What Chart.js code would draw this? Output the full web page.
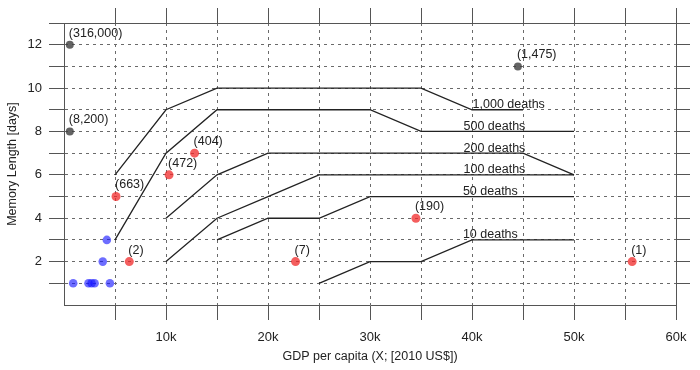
<!DOCTYPE html>
<html>
<head>
<meta charset="utf-8">
<script src="https://cdn.jsdelivr.net/npm/chart.js@4/dist/chart.umd.min.js"></script>
<style>
  html, body { margin: 0; padding: 0; background: #fff; }
  #wrap { width: 700px; height: 370px; }
</style>
</head>
<body>
<div id="wrap"><canvas id="c" width="700" height="370"></canvas></div>
<script>
// ---- data ----
const grayX = [570, 570, 44500];
const grayY = [12, 8, 11];
const grayLabels = ['(316,000)', '(8,200)', '(1,475)'];

const redX = [5100, 10300, 12800, 6400, 22700, 34500, 55700];
const redY = [5, 6, 7, 2, 2, 4, 2];
const redLabels = ['(663)', '(472)', '(404)', '(2)', '(7)', '(190)', '(1)'];

const blueX = [900, 2400, 2700, 3000, 4500, 3800, 4200];
const blueY = [1, 1, 1, 1, 1, 2, 3];

const d1000X = [5000, 10000, 15000, 35000, 40000, 45000];
const d1000Y = [6, 9, 10, 10, 9, 9];
const d500X = [5000, 10000, 15000, 30000, 35000, 50000];
const d500Y = [3, 7, 9, 9, 8, 8];
const d200X = [10000, 15000, 20000, 45000, 50000];
const d200Y = [4, 6, 7, 7, 6];
const d100X = [10000, 15000, 20000, 25000, 50000];
const d100Y = [2, 4, 5, 6, 6];
const d50X = [15000, 20000, 25000, 30000, 50000];
const d50Y = [3, 4, 4, 5, 5];
const d10X = [25000, 30000, 35000, 40000, 50000];
const d10Y = [1, 2, 2, 3, 3];

const lineNames = ['1,000 deaths', '500 deaths', '200 deaths', '100 deaths', '50 deaths', '10 deaths'];
const lineLabelX = [43600, 42200, 42200, 42200, 41800, 41800];
const lineLabelY = [9, 8, 7, 6, 5, 3];

const xTickValues = [5000, 10000, 15000, 20000, 25000, 30000, 35000, 40000, 45000, 50000, 55000, 60000];
const xTickLabels = ['', '10k', '', '20k', '', '30k', '', '40k', '', '50k', '', '60k'];
const yTickValues = [1, 2, 3, 4, 5, 6, 7, 8, 9, 10, 11, 12, 13];
const yTickLabels = ['', '2', '', '4', '', '6', '', '8', '', '10', '', '12', ''];

const xTitle = 'GDP per capita (X; [2010 US$])';
const yTitle = 'Memory Length [days]';

// ---- helpers ----
const FONT = "'Liberation Sans', Arial, Helvetica, sans-serif";
const pts = (xs, ys) => xs.map((x, i) => ({ x: x, y: ys[i] }));
const AXIS = '#555';
const GRID = '#6a6a6a';
const X_MIN = 0, X_MAX = 60000, Y_MIN = 0, Y_MAX = 13;

function lineDs(xs, ys) {
  return { data: pts(xs, ys), showLine: true, borderColor: '#222', borderWidth: 1.3,
           pointRadius: 0, fill: false, tension: 0, order: 2 };
}

const labelPlugin = {
  id: 'labels',
  afterDatasetsDraw(chart) {
    const ctx = chart.ctx;
    const xs = chart.scales.x, ys = chart.scales.y;
    ctx.save();
    ctx.fillStyle = '#222';
    ctx.font = '12.5px ' + FONT;
    // point labels
    ctx.textAlign = 'left';
    ctx.textBaseline = 'middle';
    const drawPL = (X, Y, L) => {
      X.forEach((v, i) => {
        ctx.fillText(L[i], xs.getPixelForValue(v) - 1, ys.getPixelForValue(Y[i]) - 11.5);
      });
    };
    drawPL(grayX, grayY, grayLabels);
    drawPL(redX, redY, redLabels);
    // line labels
    ctx.textAlign = 'center';
    ctx.textBaseline = 'alphabetic';
    lineNames.forEach((n, i) => {
      ctx.fillText(n, xs.getPixelForValue(lineLabelX[i]), ys.getPixelForValue(lineLabelY[i]) - 1.5);
    });
    ctx.restore();
  }
};

const edgeX = v => v === X_MIN || v === X_MAX;
const edgeY = v => v === Y_MIN || v === Y_MAX;

new Chart(document.getElementById('c'), {
  type: 'scatter',
  data: {
    datasets: [
      { data: pts(grayX, grayY), backgroundColor: 'rgba(60,60,60,0.8)', borderWidth: 0, pointRadius: 4, order: 0 },
      { data: pts(redX, redY), backgroundColor: 'rgba(240,40,40,0.75)', borderWidth: 0, pointRadius: 4.5, order: 0 },
      { data: pts(blueX, blueY), backgroundColor: 'rgba(20,20,255,0.62)', borderWidth: 0, pointRadius: 4.3, order: 0 },
      lineDs(d1000X, d1000Y),
      lineDs(d500X, d500Y),
      lineDs(d200X, d200Y),
      lineDs(d100X, d100Y),
      lineDs(d50X, d50Y),
      lineDs(d10X, d10Y)
    ]
  },
  options: {
    responsive: false,
    animation: false,
    layout: { padding: 0 },
    plugins: { legend: { display: false }, tooltip: { enabled: false } },
    scales: {
      x: {
        type: 'linear', position: 'bottom', min: X_MIN, max: X_MAX,
        afterBuildTicks: s => { s.ticks = xTickValues.map(v => ({ value: v })); },
        afterFit: s => { s.height = 65; },
        ticks: {
          autoSkip: false, maxRotation: 0, padding: 10, color: '#222',
          font: { family: FONT, size: 13 },
          callback: (v, i) => xTickLabels[i]
        },
        grid: {
          color: c => (c.tick && edgeX(c.tick.value)) ? 'rgba(0,0,0,0)' : GRID,
          lineWidth: 1, tickLength: 15, tickColor: AXIS, tickWidth: 1, tickBorderDash: []
        },
        border: { display: true, color: AXIS, width: 1, dash: [3, 4] },
        title: { display: true, text: xTitle, color: '#222', font: { family: FONT, size: 12.5 }, padding: { top: 0, bottom: 5.5 } }
      },
      xTop: {
        type: 'linear', position: 'top', min: X_MIN, max: X_MAX,
        afterBuildTicks: s => { s.ticks = xTickValues.map(v => ({ value: v })); },
        afterFit: s => { s.height = 23; },
        ticks: { display: false },
        grid: { drawOnChartArea: false, tickLength: 15, tickColor: AXIS, tickWidth: 1 },
        border: { display: true, color: AXIS, width: 1 }
      },
      y: {
        type: 'linear', position: 'left', min: Y_MIN, max: Y_MAX,
        afterBuildTicks: s => { s.ticks = yTickValues.map(v => ({ value: v })); },
        afterFit: s => { s.width = 64; },
        ticks: {
          autoSkip: false, padding: 7, color: '#222',
          font: { family: FONT, size: 13 },
          callback: (v, i) => yTickLabels[i]
        },
        grid: {
          color: c => (c.tick && edgeY(c.tick.value)) ? 'rgba(0,0,0,0)' : GRID,
          lineWidth: 1, tickLength: 15, tickColor: AXIS, tickWidth: 1, tickBorderDash: []
        },
        border: { display: true, color: AXIS, width: 1, dash: [3, 4] },
        title: { display: true, text: yTitle, color: '#222', font: { family: FONT, size: 12.5 }, padding: { top: 5.5, bottom: 0 } }
      },
      yRight: {
        type: 'linear', position: 'right', min: Y_MIN, max: Y_MAX,
        afterBuildTicks: s => { s.ticks = yTickValues.map(v => ({ value: v })); },
        afterFit: s => { s.width = 24; },
        ticks: { display: false },
        grid: { drawOnChartArea: false, tickLength: 14, tickColor: AXIS, tickWidth: 1 },
        border: { display: true, color: AXIS, width: 1 }
      }
    }
  },
  plugins: [labelPlugin]
});
</script>
</body>
</html>
